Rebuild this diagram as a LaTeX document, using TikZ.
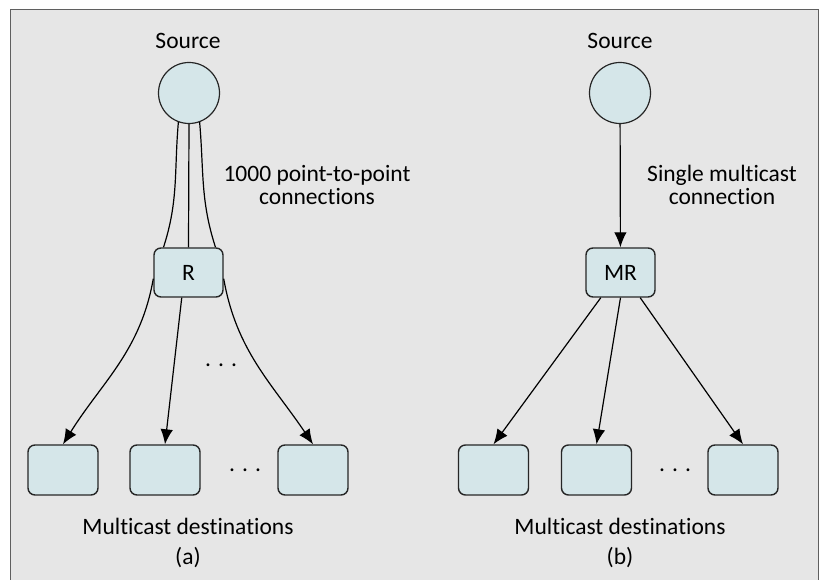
\documentclass[tikz,border=0pt]{standalone}
\usepackage{fontspec}
\setmainfont[Ligatures=NoCommon]{Carlito}
\usetikzlibrary{arrows.meta}
\definecolor{panelgray}{RGB}{230,230,230}
\definecolor{nodeblue}{RGB}{213,230,233}
\definecolor{framegray}{RGB}{95,95,95}
\tikzset{
  >={Latex[length=15pt,width=12.5pt]},
}
\tikzstyle{host}=[circle,draw=black!85,fill=nodeblue,line width=1.2pt,minimum size=61pt,inner sep=0pt]
\tikzstyle{router}=[rectangle,rounded corners=7pt,draw=black!85,fill=nodeblue,line width=1.4pt,minimum width=69pt,minimum height=49pt,inner sep=0pt]
\tikzstyle{dest}=[router,minimum width=70pt,minimum height=50pt]
\tikzstyle{link}=[line width=1.2pt]
\tikzstyle{every node}=[font=\fontsize{23.5}{22.5}\selectfont]

\begin{document}
\begin{tikzpicture}[x=10pt,y=10pt]
        \useasboundingbox (0,0) rectangle (82.3,58);
        \draw[framegray,fill=panelgray,line width=1pt] (1.0,-1) rectangle (81.8,57.0);
        % (a)
        \node (srcAlabel) at (18.8,53.9) {Source};
        \node[host] (srcA) at (18.9,48.7) {};
        \node[router] (R) at (18.85,30.75) {R};
        \node[dest] (dA1) at (6.3,11.0) {};
        \node[dest] (dA2) at (16.5,11.0) {};
        \node[dest] (dA3) at (31.3,11.0) {};
        \draw[link] (srcA.south) -- (R.north);
        \draw[link] (srcA.-110) to[out=-95,in=72] ([xshift=-25pt]R.north);
        \draw[link] (srcA.-70) to[out=-85,in=108] ([xshift=27pt]R.north);
        \draw[link,->] (R.190) to[out=-100,in=58] (dA1.north);
        \draw[link,->] (R.-105) -- (dA2.north);
        \draw[link,->] (R.-10) to[out=-80,in=124] (dA3.north);
        \node[align=center] (ptp) at (31.7,39.5) {1000 point-to-point\\connections};
        \node (dotsAmid) at (22.1,21.5) {. . .};
        \node (dotsA) at (24.5,11.0) {. . .};
        \node (destsA) at (18.8,5.4) {Multicast destinations};
        \node (capA) at (18.8,2.2) {(a)};
        % (b)
        \node (srcBlabel) at (62.0,53.9) {Source};
        \node[host] (srcB) at (62.0,48.7) {};
        \node[router] (MR) at (62.05,30.75) {MR};
        \node[dest] (dB1) at (49.35,11.0) {};
        \node[dest] (dB2) at (59.65,11.0) {};
        \node[dest] (dB3) at (74.3,11.0) {};
        \draw[link,->] (srcB) -- (MR);
        \draw[link,->] (MR.-128) -- (dB1.north);
        \draw[link,->] (MR.south) -- (dB2.north);
        \draw[link,->] (MR.-52) -- (dB3.north);
        \node[align=center] (single) at (72.2,39.5) {Single multicast\\connection};
        \node (dotsB) at (67.5,11.0) {. . .};
        \node (destsB) at (62.0,5.4) {Multicast destinations};
        \node (capB) at (62.0,2.2) {(b)};
      \end{tikzpicture}
\end{document}
